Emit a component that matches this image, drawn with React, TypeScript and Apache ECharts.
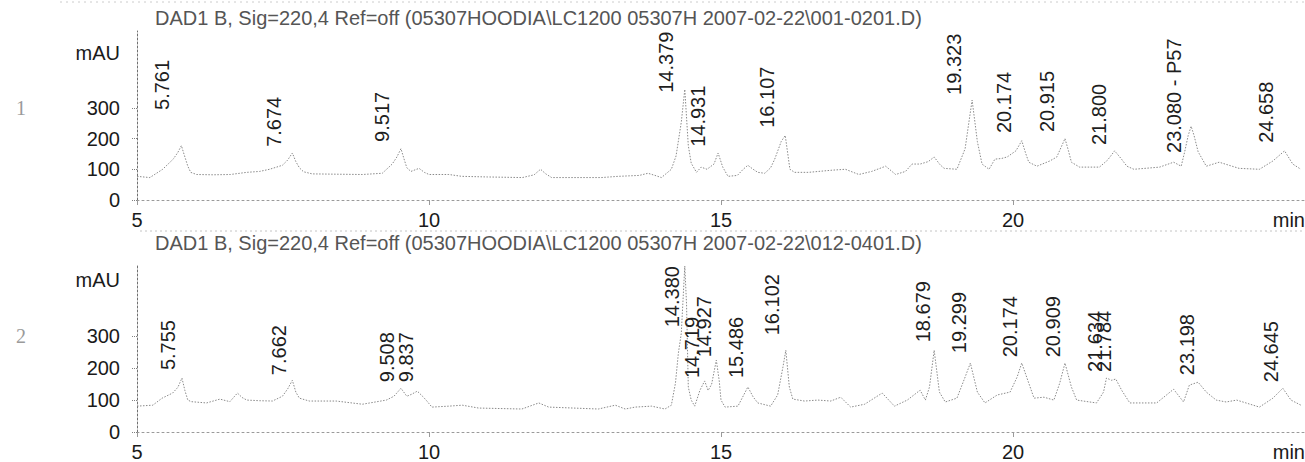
import React, { useEffect, useRef } from 'react';
import * as echarts from 'echarts';

// ---- data ----
const xTickLabels = [5, 10, 15, 20];
const yTickLabels = [0, 100, 200, 300];

const title1 = 'DAD1 B, Sig=220,4 Ref=off (05307HOODIA\\LC1200 05307H 2007-02-22\\001-0201.D)';
const title2 = 'DAD1 B, Sig=220,4 Ref=off (05307HOODIA\\LC1200 05307H 2007-02-22\\012-0401.D)';

// chromatogram 1: [time (min), absorbance (mAU)]
const trace1: [number, number][] = [
  [5.0, 77], [5.22, 73], [5.44, 100], [5.62, 133], [5.7, 155], [5.76, 177], [5.82, 140], [5.87, 110], [5.92, 90],
  [6.02, 83], [6.3, 82], [6.6, 83], [6.88, 90], [7.1, 93], [7.27, 100], [7.49, 113], [7.58, 130], [7.66, 153],
  [7.72, 125], [7.78, 105], [7.85, 92], [8.0, 85], [8.4, 84], [8.86, 83], [9.2, 87], [9.37, 117], [9.45, 140],
  [9.52, 167], [9.57, 135], [9.62, 105], [9.69, 93], [9.76, 98], [9.83, 103], [9.92, 90], [10.0, 83], [10.34, 83],
  [10.56, 77], [11.0, 75], [11.6, 73], [11.8, 82], [11.91, 100], [12.0, 85], [12.1, 73], [12.5, 73], [12.95, 73],
  [13.24, 77], [13.6, 80], [13.75, 87], [13.87, 80], [13.98, 73], [14.15, 100], [14.23, 143], [14.32, 253],
  [14.38, 360], [14.44, 177], [14.49, 120], [14.58, 90], [14.66, 107], [14.76, 100], [14.88, 117], [14.95, 153],
  [15.03, 107], [15.12, 77], [15.28, 80], [15.38, 100], [15.46, 113], [15.55, 100], [15.63, 90], [15.75, 87],
  [15.85, 105], [15.92, 133], [16.03, 190], [16.1, 210], [16.18, 100], [16.26, 90], [16.5, 90], [16.67, 93],
  [16.9, 97], [17.13, 100], [17.36, 83], [17.58, 93], [17.82, 110], [17.99, 83], [18.16, 93], [18.27, 117],
  [18.41, 117], [18.55, 125], [18.65, 140], [18.75, 115], [18.82, 103], [19.04, 100], [19.18, 167], [19.25, 260],
  [19.3, 325], [19.35, 250], [19.39, 190], [19.47, 117], [19.59, 100], [19.69, 133], [19.8, 135], [19.9, 140],
  [20.05, 160], [20.15, 193], [20.22, 150], [20.27, 123], [20.41, 110], [20.63, 127], [20.75, 140], [20.89, 200],
  [20.95, 160], [21.0, 123], [21.14, 107], [21.48, 107], [21.62, 130], [21.74, 160], [21.85, 135], [21.95, 110],
  [22.07, 100], [22.51, 107], [22.75, 123], [22.88, 110], [22.94, 157], [23.0, 210], [23.05, 240], [23.1, 210],
  [23.17, 157], [23.31, 110], [23.53, 123], [23.87, 103], [24.22, 100], [24.45, 127], [24.65, 160], [24.79, 117],
  [24.93, 100],
];

// chromatogram 2: [time (min), absorbance (mAU)]
const trace2: [number, number][] = [
  [5.0, 81], [5.27, 84], [5.43, 106], [5.61, 122], [5.7, 140], [5.77, 169], [5.82, 130], [5.87, 100], [5.93, 95],
  [6.19, 91], [6.42, 103], [6.59, 95], [6.72, 122], [6.8, 108], [6.88, 100], [7.1, 98], [7.32, 97], [7.49, 112],
  [7.58, 135], [7.66, 162], [7.72, 125], [7.78, 106], [7.95, 97], [8.41, 97], [8.86, 87], [9.27, 100], [9.4, 112],
  [9.52, 137], [9.62, 112], [9.7, 118], [9.8, 128], [9.9, 110], [9.95, 100], [10.05, 78], [10.34, 81], [10.57, 84],
  [10.85, 75], [11.59, 72], [11.88, 91], [12.05, 78], [12.9, 72], [13.19, 84], [13.36, 72], [13.53, 78], [13.81, 81],
  [14.04, 72], [14.15, 84], [14.22, 153], [14.27, 247], [14.32, 309], [14.36, 450], [14.38, 520], [14.41, 400],
  [14.44, 141], [14.49, 100], [14.55, 81], [14.64, 131], [14.72, 160], [14.78, 130], [14.84, 150], [14.92, 225],
  [14.97, 160], [15.0, 100], [15.07, 78], [15.29, 81], [15.46, 141], [15.55, 110], [15.63, 91], [15.85, 81],
  [15.97, 116], [16.06, 203], [16.11, 256], [16.17, 141], [16.23, 103], [16.43, 97], [16.66, 100], [16.88, 97],
  [17.05, 109], [17.22, 78], [17.46, 87], [17.76, 122], [17.97, 81], [18.19, 100], [18.41, 131], [18.5, 100],
  [18.57, 141], [18.65, 256], [18.74, 125], [18.84, 94], [19.04, 106], [19.18, 172], [19.27, 216], [19.39, 125],
  [19.52, 91], [19.73, 116], [19.95, 125], [20.07, 172], [20.15, 216], [20.27, 153], [20.36, 106], [20.53, 109],
  [20.7, 100], [20.8, 153], [20.89, 216], [21.0, 141], [21.09, 100], [21.43, 91], [21.55, 125], [21.6, 169],
  [21.69, 162], [21.76, 166], [21.86, 131], [22.0, 91], [22.46, 91], [22.75, 134], [22.92, 94], [23.02, 147],
  [23.17, 156], [23.31, 125], [23.48, 100], [23.65, 94], [23.83, 100], [24.22, 78], [24.45, 106], [24.62, 137],
  [24.76, 100], [24.93, 84],
];

// peak annotations (retention times)
const peaks1 = ['5.761', '7.674', '9.517', '14.379', '14.931', '16.107', '19.323', '20.174', '20.915', '21.800', '23.080 - P57', '24.658'];
const peaks2 = ['5.755', '7.662', '9.508', '9.837', '14.380', '14.719', '14.927', '15.486', '16.102', '18.679', '19.299', '20.174', '20.909', '21.634', '21.784', '23.198', '24.645'];

// layout: height (mAU) at which each annotation starts
const labelBase1 = [293, 173, 189, 349, 173, 235, 342, 218, 221, 179, 153, 186];
const labelBase2 = [194, 178, 156, 156, 328, 169, 234, 169, 303, 281, 247, 234, 234, 188, 188, 178, 156];

const FONT = '"Liberation Sans", Arial, sans-serif';

function axisPair(i: number, yMax: number) {
  const x = {
    gridIndex: i,
    type: 'value',
    min: 5,
    max: 25,
    interval: 5,
    axisLine: { show: true, onZero: false, lineStyle: { color: '#9a9a9a', width: 1, type: [2, 3] } },
    axisTick: { show: true, length: 5, lineStyle: { color: '#9a9a9a' } },
    axisLabel: {
      margin: 10,
      color: '#1a1a1a',
      fontSize: 20,
      fontFamily: FONT,
      showMinLabel: true,
      hideOverlap: false,
      formatter: (v: number) => (xTickLabels.includes(v) ? String(v) : ''),
    },
    splitLine: { show: false },
  };
  const y = {
    gridIndex: i,
    type: 'value',
    min: 0,
    max: yMax,
    interval: 100,
    axisLine: { show: true, onZero: false, lineStyle: { color: '#707070', width: 1, type: [2, 2] } },
    axisTick: { show: true, length: 5, customValues: yTickLabels, lineStyle: { color: '#808080', type: [1, 1] } },
    axisLabel: {
      margin: 17,
      color: '#1a1a1a',
      fontSize: 20,
      fontFamily: FONT,
      customValues: yTickLabels,
      formatter: (v: number) => (yTickLabels.includes(v) ? String(v) : ''),
    },
    splitLine: { show: false },
  };
  return { x, y };
}

function labelSeries(i: number, texts: string[], levels: number[], dx: number) {
  return {
    type: 'custom',
    xAxisIndex: i,
    yAxisIndex: i,
    silent: true,
    clip: false,
    z: 5,
    data: texts.map((s, k) => [parseFloat(s), levels[k]]),
    renderItem: (params: any, api: any) => {
      const p = api.coord([api.value(0), api.value(1)]);
      return {
        type: 'text',
        x: p[0] + dx,
        y: p[1],
        rotation: Math.PI / 2,
        style: {
          text: texts[params.dataIndex],
          font: '20px ' + FONT,
          fill: '#1e1e1e',
          align: 'left',
          verticalAlign: 'middle',
        },
      };
    },
  };
}

function traceSeries(i: number, data: [number, number][]) {
  return {
    type: 'line',
    xAxisIndex: i,
    yAxisIndex: i,
    data,
    symbol: 'none',
    showSymbol: false,
    smooth: false,
    lineStyle: { color: '#8a8a8a', width: 1, type: [1.5, 1.5] },
    z: 3,
  };
}

export default function App() {
  const ref = useRef<HTMLDivElement>(null);
  useEffect(() => {
    if (!ref.current) return;
    const chart = echarts.init(ref.current, undefined, { renderer: 'svg' });
    const a1 = axisPair(0, 550);
    const a2 = axisPair(1, 520);
    const textEl = (text: string, x: number, y: number, align: string, fill: string, font = '20px ' + FONT) => ({
      type: 'text',
      x,
      y,
      silent: true,
      style: { text, x: 0, y: 0, align, verticalAlign: 'middle', fill, font },
    });
    chart.setOption({
      animation: false,
      backgroundColor: '#ffffff',
      grid: [
        { left: 137, top: 31, width: 1168, height: 169, containLabel: false, outerBoundsMode: 'none' },
        { left: 137, top: 266, width: 1168, height: 166, containLabel: false, outerBoundsMode: 'none' },
      ],
      xAxis: [a1.x, a2.x],
      yAxis: [a1.y, a2.y],
      series: [
        traceSeries(0, trace1),
        traceSeries(1, trace2),
        labelSeries(0, peaks1, labelBase1, -19),
        labelSeries(1, peaks2, labelBase2, -13),
      ],
      graphic: [
        textEl(title1, 155, 18, 'left', '#555555'),
        textEl(title2, 155, 243, 'left', '#555555'),
        textEl('mAU', 120, 53, 'right', '#1a1a1a'),
        textEl('mAU', 120, 280, 'right', '#1a1a1a'),
        textEl('1', 21, 108, 'center', '#9a9a9a', '20px "Liberation Serif", serif'),
        textEl('2', 21, 336, 'center', '#9a9a9a', '20px "Liberation Serif", serif'),
        textEl('min', 1305, 220, 'right', '#1a1a1a'),
        textEl('min', 1305, 452, 'right', '#1a1a1a'),
        {
          type: 'line',
          silent: true,
          shape: { x1: 140, y1: 231, x2: 1305, y2: 231 },
          style: { stroke: '#c4c4c4', lineWidth: 1, lineDash: [2, 3] },
        },
        {
          type: 'line',
          silent: true,
          shape: { x1: 60, y1: 2, x2: 1305, y2: 2 },
          style: { stroke: '#cccccc', lineWidth: 1, lineDash: [2, 4] },
        },
      ],
    });
    return () => chart.dispose();
  }, []);
  return (
    <div
      ref={ref}
      style={{ position: 'fixed', left: 0, top: 0, width: 1305, height: 480, background: '#fff' }}
    />
  );
}
